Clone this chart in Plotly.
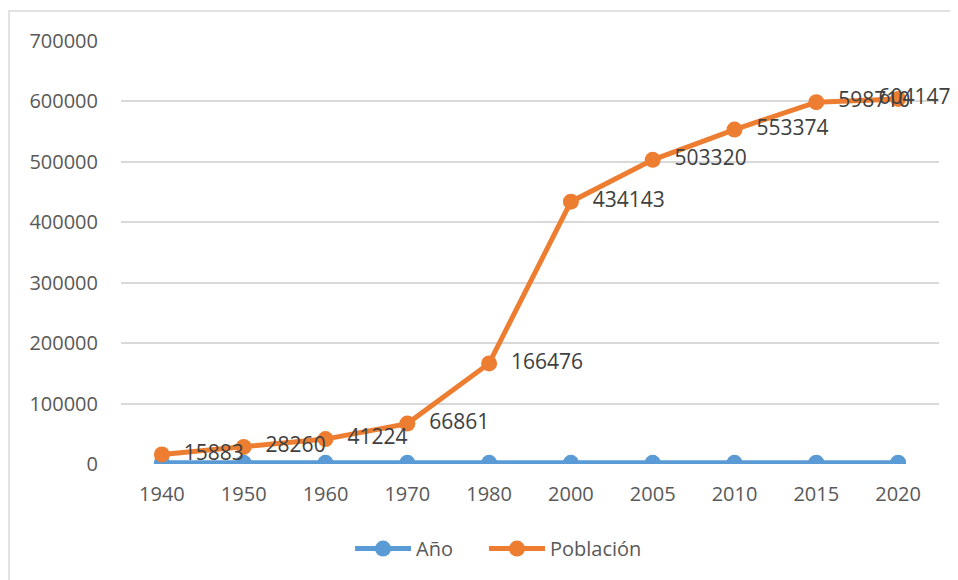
import plotly.graph_objects as go

years = ["1940", "1950", "1960", "1970", "1980", "2000", "2005", "2010", "2015", "2020"]
anio = [1940, 1950, 1960, 1970, 1980, 2000, 2005, 2010, 2015, 2020]
poblacion = [15883, 28260, 41224, 66861, 166476, 434143, 503320, 553374, 598710, 604147]
y_ticks = [0, 100000, 200000, 300000, 400000, 500000, 600000, 700000]

FONT = "Open Sans"
GRAY = "#595959"

# data labels sit to the right of each point; the last one is pulled back inside like Excel does
labels = ["  " + str(v) for v in poblacion[:-1]] + [" " * 6 + str(poblacion[-1])]
positions = ["middle right"] * (len(poblacion) - 1) + ["middle center"]

fig = go.Figure()
fig.add_trace(go.Scatter(
    x=years, y=anio, name="Año" + "\u00a0" * 5, mode="lines+markers",
    line=dict(color="#5B9BD5", width=5),
    marker=dict(color="#5B9BD5", size=16),
))
fig.add_trace(go.Scatter(
    x=years, y=poblacion, name="Población", mode="lines+markers+text",
    line=dict(color="#ED7D31", width=5),
    marker=dict(color="#ED7D31", size=16),
    text=labels,
    textposition=positions,
    textfont=dict(family=FONT, size=21, color="#404040"),
    cliponaxis=False,
))

fig.update_layout(
    width=958, height=580,
    margin=dict(l=113, r=27, t=33, b=124, autoexpand=False),
    paper_bgcolor="white", plot_bgcolor="white",
    font=dict(family=FONT, size=20, color=GRAY),
    showlegend=True,
    legend=dict(orientation="h", x=0.28, xanchor="left", y=-0.2, yanchor="middle",
                font=dict(family=FONT, size=20, color=GRAY), itemwidth=56),
    xaxis=dict(type="category", range=[-0.5, 9.5], showgrid=False, zeroline=False,
               showline=False, ticks="", automargin=False, ticklabelstandoff=16,
               tickfont=dict(size=20, color=GRAY)),
    yaxis=dict(range=[0, 700000], tickvals=y_ticks, ticktext=[str(v) for v in y_ticks],
               showgrid=True, gridcolor="#D9D9D9", gridwidth=1.5, zeroline=False,
               showline=False, ticks="", ticklabelstandoff=22, automargin=False,
               tickfont=dict(size=20, color=GRAY)),
    shapes=[dict(type="rect", xref="paper", yref="paper",
                 x0=-0.1369, x1=1.2, y0=-0.6, y1=1.0709,
                 line=dict(color="#D9D9D9", width=1.5), fillcolor="rgba(0,0,0,0)",
                 layer="below")],
)

fig.write_html("out.html")
